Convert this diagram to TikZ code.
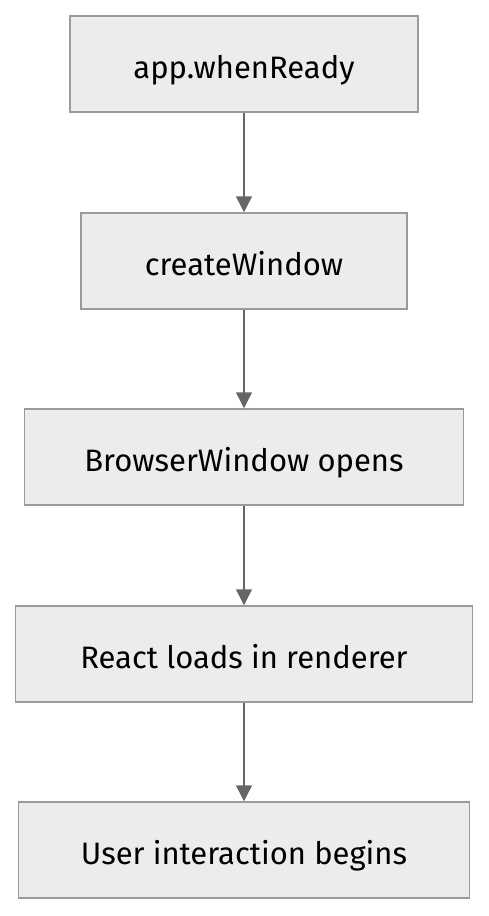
\documentclass[tikz,border=0pt]{standalone}
\usepackage{fontspec}
\setmainfont{Fira Sans}
\usetikzlibrary{arrows.meta}
\definecolor{boxfill}{HTML}{ECECEC}
\definecolor{boxline}{HTML}{9A9A9A}
\definecolor{arrowline}{HTML}{666666}
\begin{document}
\begin{tikzpicture}[x=1pt,y=-1pt]
    \tikzset{stage/.style = {shape=rectangle,draw=boxline,fill=boxfill,line width=1.5pt,
        minimum height=96pt,inner sep=0pt,text height=28pt,text depth=0pt,
        font=\fontsize{31}{36}\selectfont}}
    \tikzset{flow/.style = {draw=arrowline,line width=1.5pt,-{Triangle[length=16pt,width=16pt]}}}
    \useasboundingbox (0,0) rectangle (489,916);
    \node[stage,minimum width=348pt] (ready) at (244,64) {app.whenReady};
    \node[stage,minimum width=326pt] (create) at (244,261) {createWindow};
    \node[stage,minimum width=439pt] (browser) at (244,457) {BrowserWindow opens};
    \node[stage,minimum width=457pt] (react) at (244,654) {React loads in renderer};
    \node[stage,minimum width=451pt] (user) at (244,850) {User interaction begins};
    \draw[flow] (ready) to (create);
    \draw[flow] (create) to (browser);
    \draw[flow] (browser) to (react);
    \draw[flow] (react) to (user);
\end{tikzpicture}
\end{document}
